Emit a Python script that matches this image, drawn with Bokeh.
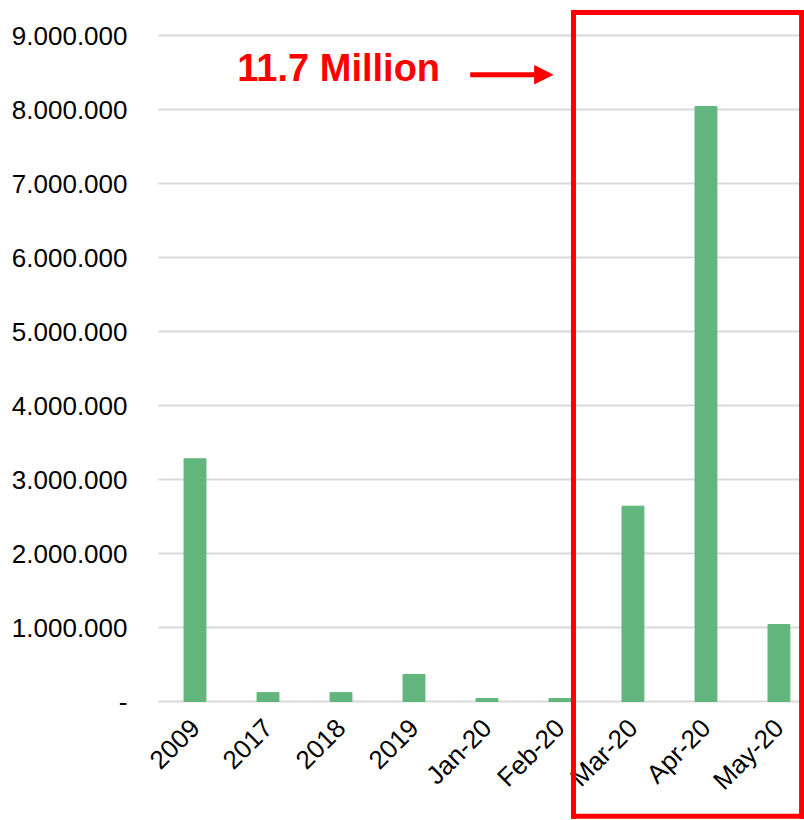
from bokeh.plotting import figure
from bokeh.models import FixedTicker, Arrow, NormalHead, Label, Range1d
from bokeh.embed import file_html
from bokeh.resources import INLINE

categories = ["2009", "2017", "2018", "2019", "Jan-20", "Feb-20", "Mar-20", "Apr-20", "May-20"]
values = [3280000, 120000, 120000, 365000, 40000, 40000, 2640000, 8040000, 1040000]
y_ticks = [0, 1000000, 2000000, 3000000, 4000000, 5000000, 6000000, 7000000, 8000000, 9000000]
y_tick_labels = ["-", "1.000.000", "2.000.000", "3.000.000", "4.000.000", "5.000.000",
                 "6.000.000", "7.000.000", "8.000.000", "9.000.000"]
annotation_text = "11.7 Million"

FONT = "Liberation Sans"
GREEN = "#62b57c"
RED = "#ff0000"
GRID = "#d9d9d9"

xs = list(range(len(categories)))
X0, X1 = -0.5, 8.35

p = figure(width=804, height=820, output_backend="svg", toolbar_location=None,
           x_range=Range1d(-0.774, X1), y_range=Range1d(-1608000, 9473000),
           min_border_left=138, min_border_right=0, min_border_top=0, min_border_bottom=0)
p.outline_line_color = None
p.background_fill_color = "white"
p.border_fill_color = "white"

# horizontal gridlines (start at the category area, like the original)
p.segment(x0=[X0] * len(y_ticks), x1=[X1] * len(y_ticks), y0=y_ticks, y1=y_ticks,
          line_color=GRID, line_width=2)

p.vbar(x=xs, top=values, width=0.3, color=GREEN)

# axes
p.yaxis.ticker = FixedTicker(ticks=y_ticks)
p.yaxis.major_label_overrides = {t: l for t, l in zip(y_ticks, y_tick_labels)}
p.yaxis.axis_line_color = None
p.yaxis.major_tick_line_color = None
p.yaxis.minor_tick_line_color = None
p.yaxis.major_label_standoff = 5
p.yaxis.major_label_text_font = FONT
p.yaxis.major_label_text_font_size = "26px"
p.yaxis.major_label_text_color = "black"

p.xaxis.fixed_location = 0
p.xaxis.ticker = FixedTicker(ticks=xs)
p.xaxis.major_label_overrides = {i: c for i, c in enumerate(categories)}
p.xaxis.major_label_orientation = 0.785398
p.xaxis.axis_line_color = None
p.xaxis.major_tick_line_color = None
p.xaxis.minor_tick_line_color = None
p.xaxis.major_label_standoff = 16
p.xaxis.major_label_text_font = FONT
p.xaxis.major_label_text_font_size = "26px"
p.xaxis.major_label_text_color = "black"

p.xgrid.grid_line_color = None
p.ygrid.grid_line_color = None

# highlight box drawn as four head-less segments
bl, br, bt, bb = 5.185, 8.31, 9310000, -1550000
for (x0, y0, x1, y1) in [(bl, bb, bl, bt), (bl, bt, br, bt), (br, bt, br, bb), (br, bb, bl, bb)]:
    p.add_layout(Arrow(x_start=x0, y_start=y0, x_end=x1, y_end=y1, end=None,
                       line_color=RED, line_width=5, line_cap="square", level="overlay"))

# arrow
p.add_layout(Arrow(x_start=3.77, y_start=8470000, x_end=4.9, y_end=8470000,
                   line_color=RED, line_width=5,
                   end=NormalHead(size=18, fill_color=RED, line_color=RED, line_width=1)))

p.add_layout(Label(x=0.58, y=8280000, text=annotation_text, text_color=RED,
                   text_font=FONT, text_font_style="bold", text_font_size="38px"))

open("out.html", "w").write(file_html(p, INLINE))
